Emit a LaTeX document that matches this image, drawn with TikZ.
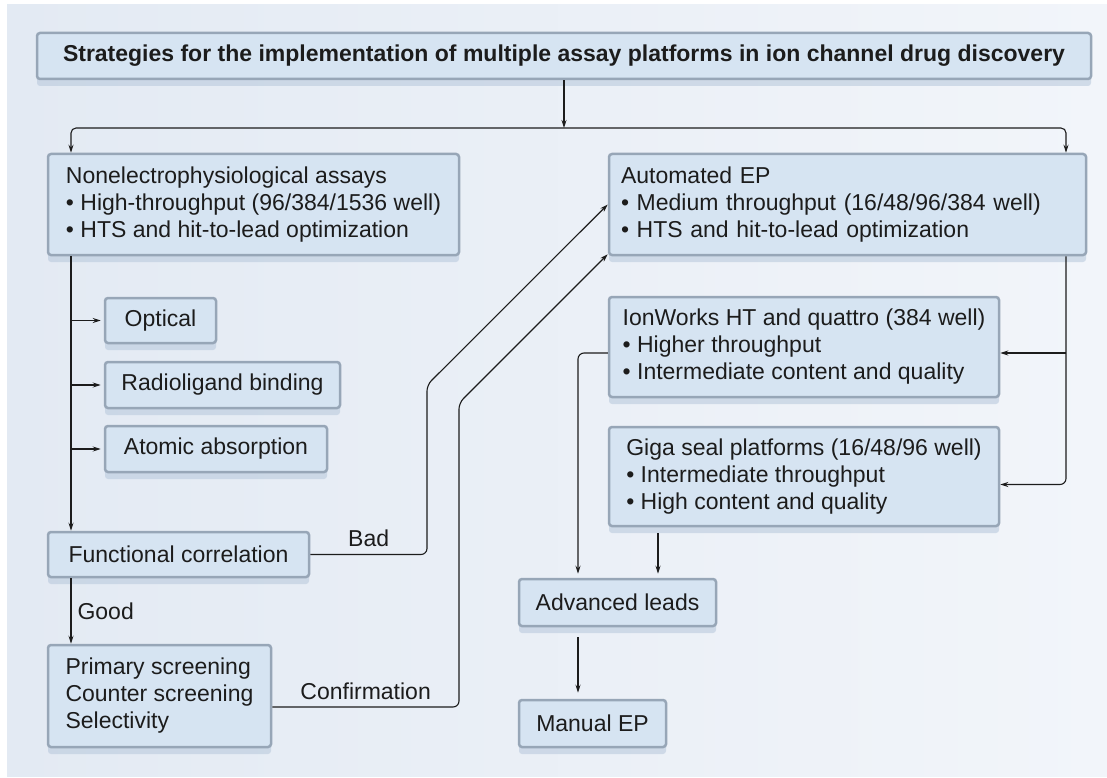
\documentclass[tikz,border=0pt]{standalone}
\usepackage{fontspec}
\setmainfont{Liberation Sans}
\usepackage{tikz}
\usetikzlibrary{arrows.meta, positioning, calc, shadows}

\definecolor{boxfill}{HTML}{D6E4F2}
\definecolor{boxedge}{HTML}{97A6B7}
\definecolor{shade}{HTML}{BACADD}
\definecolor{bgleft}{HTML}{E3EAF3}
\definecolor{bgright}{HTML}{F2F5FA}
\definecolor{ink}{HTML}{1C1C1C}

\begin{document}
\begin{tikzpicture}[
    x=1pt, y=-1pt,
    >={Stealth[length=8pt, width=5pt]},
    stage/.style={rectangle, rounded corners=3pt, draw=boxedge, line width=2.5pt, fill=boxfill,
        drop shadow={shadow xshift=0pt, shadow yshift=-7pt, fill=shade, opacity=.6},
        inner xsep=12pt, inner ysep=0pt, align=left, text=ink,
        font=\fontsize{23pt}{27pt}\selectfont},
    link/.style={->, draw=ink, line width=1.1pt},
    tag/.style={font=\fontsize{23pt}{27pt}\selectfont, text=ink, inner sep=3pt}
]
    \fill[white] (0,0) rectangle (1107,778);
    \shade[left color=bgleft, right color=bgright] (7,5) rectangle (1107,776);
    \useasboundingbox (0,0) rectangle (1107,778);

    % title and the two families of assays
    \node[stage, minimum width=1054pt, minimum height=46pt, align=center,
          font=\fontsize{23pt}{27pt}\selectfont\bfseries] (title) at (564,56)
        {Strategies for the implementation of multiple assay platforms in ion channel drug discovery};
    \node[stage, minimum width=411pt, minimum height=101pt] (nonelec) at (253.5,204.5)
        {Nonelectrophysiological assays\\ • High-throughput (96/384/1536 well)\\ • HTS and hit-to-lead optimization};
    \node[stage, text width=453pt, minimum height=101pt] (autoep) at (847.5,204.5)
        {Automated EP\\ • Medium throughput (16/48/96/384 well)\\ • HTS and hit-to-lead optimization};

    % left column
    \node[stage, minimum width=111pt, minimum height=45pt] (optical) at (160.5,320.5) {Optical};
    \node[stage, minimum width=235pt, minimum height=46pt] (radio) at (222.5,385) {Radioligand binding};
    \node[stage, minimum width=222pt, minimum height=46pt] (atomic) at (216,449) {Atomic absorption};
    \node[stage, minimum width=261pt, minimum height=45pt] (funccorr) at (178.5,554.5) {Functional correlation};
    \node[stage, minimum width=223pt, minimum height=102pt] (primary) at (159.5,696)
        {Primary screening\\ Counter screening\\ Selectivity};

    % right column
    \node[stage, minimum width=390pt, minimum height=100pt] (ionworks) at (804,347)
        {IonWorks HT and quattro (384 well)\\ • Higher throughput\\ • Intermediate content and quality};
    \node[stage, minimum width=390pt, minimum height=99pt] (giga) at (804,476.5)
        {Giga seal platforms (16/48/96 well)\\ • Intermediate throughput\\ • High content and quality};
    \node[stage, minimum width=197pt, minimum height=47pt] (advleads) at (617.5,602.5) {Advanced leads};
    \node[stage, minimum width=147pt, minimum height=47pt] (manual) at (592.5,723.5) {Manual EP};

    % bends of the connectors
    \coordinate (lsplit) at (71,128);
    \coordinate (rsplit) at (1066,128);
    \coordinate (badbend) at (427,385);
    \coordinate (confbend) at (459,403);
    \coordinate (leadx) at (578,0);
    \coordinate (gigax) at (658,0);

    \draw[link] (title.south) -- (title.south |- lsplit);
    \draw[link, <->, rounded corners=5pt] (nonelec.north -| lsplit) -- (lsplit) -- (rsplit) -- (autoep.north -| rsplit);

    \draw[link] (nonelec.south -| lsplit) -- (funccorr.north -| lsplit);
    \foreach \n in {optical, radio, atomic}
        \draw[link, shorten >=3pt] (\n.west -| lsplit) -- (\n.west);
    \draw[link] (funccorr.south -| lsplit) -- node[tag, right=3pt] (goodlbl) {Good} (primary.north -| lsplit);

    \draw[link, rounded corners=6pt] (funccorr.east) -| node[tag, pos=.25, above=4pt] (badlbl) {Bad}
        (badbend) -- (autoep.west);
    \draw[link, rounded corners=6pt] ([yshift=-11pt]primary.east) -| node[tag, pos=.25, above=4pt] (conflbl) {Confirmation}
        (confbend) -- ([yshift=2pt]autoep.south west);

    \draw[link, rounded corners=6pt] (autoep.south -| rsplit) |- ([yshift=-8pt]giga.east);
    \draw[link] ([yshift=-6pt]ionworks.east -| rsplit) -- ([yshift=-6pt]ionworks.east);
    \draw[link, rounded corners=6pt, shorten >=4pt] ([yshift=-6pt]ionworks.west) -| (advleads.north -| leadx);
    \draw[link, shorten <=6pt, shorten >=4pt] (giga.south -| gigax) -- (advleads.north -| gigax);
    \draw[link, shorten <=10pt, shorten >=6pt] (advleads.south -| leadx) -- (manual.north -| leadx);
\end{tikzpicture}
\end{document}
